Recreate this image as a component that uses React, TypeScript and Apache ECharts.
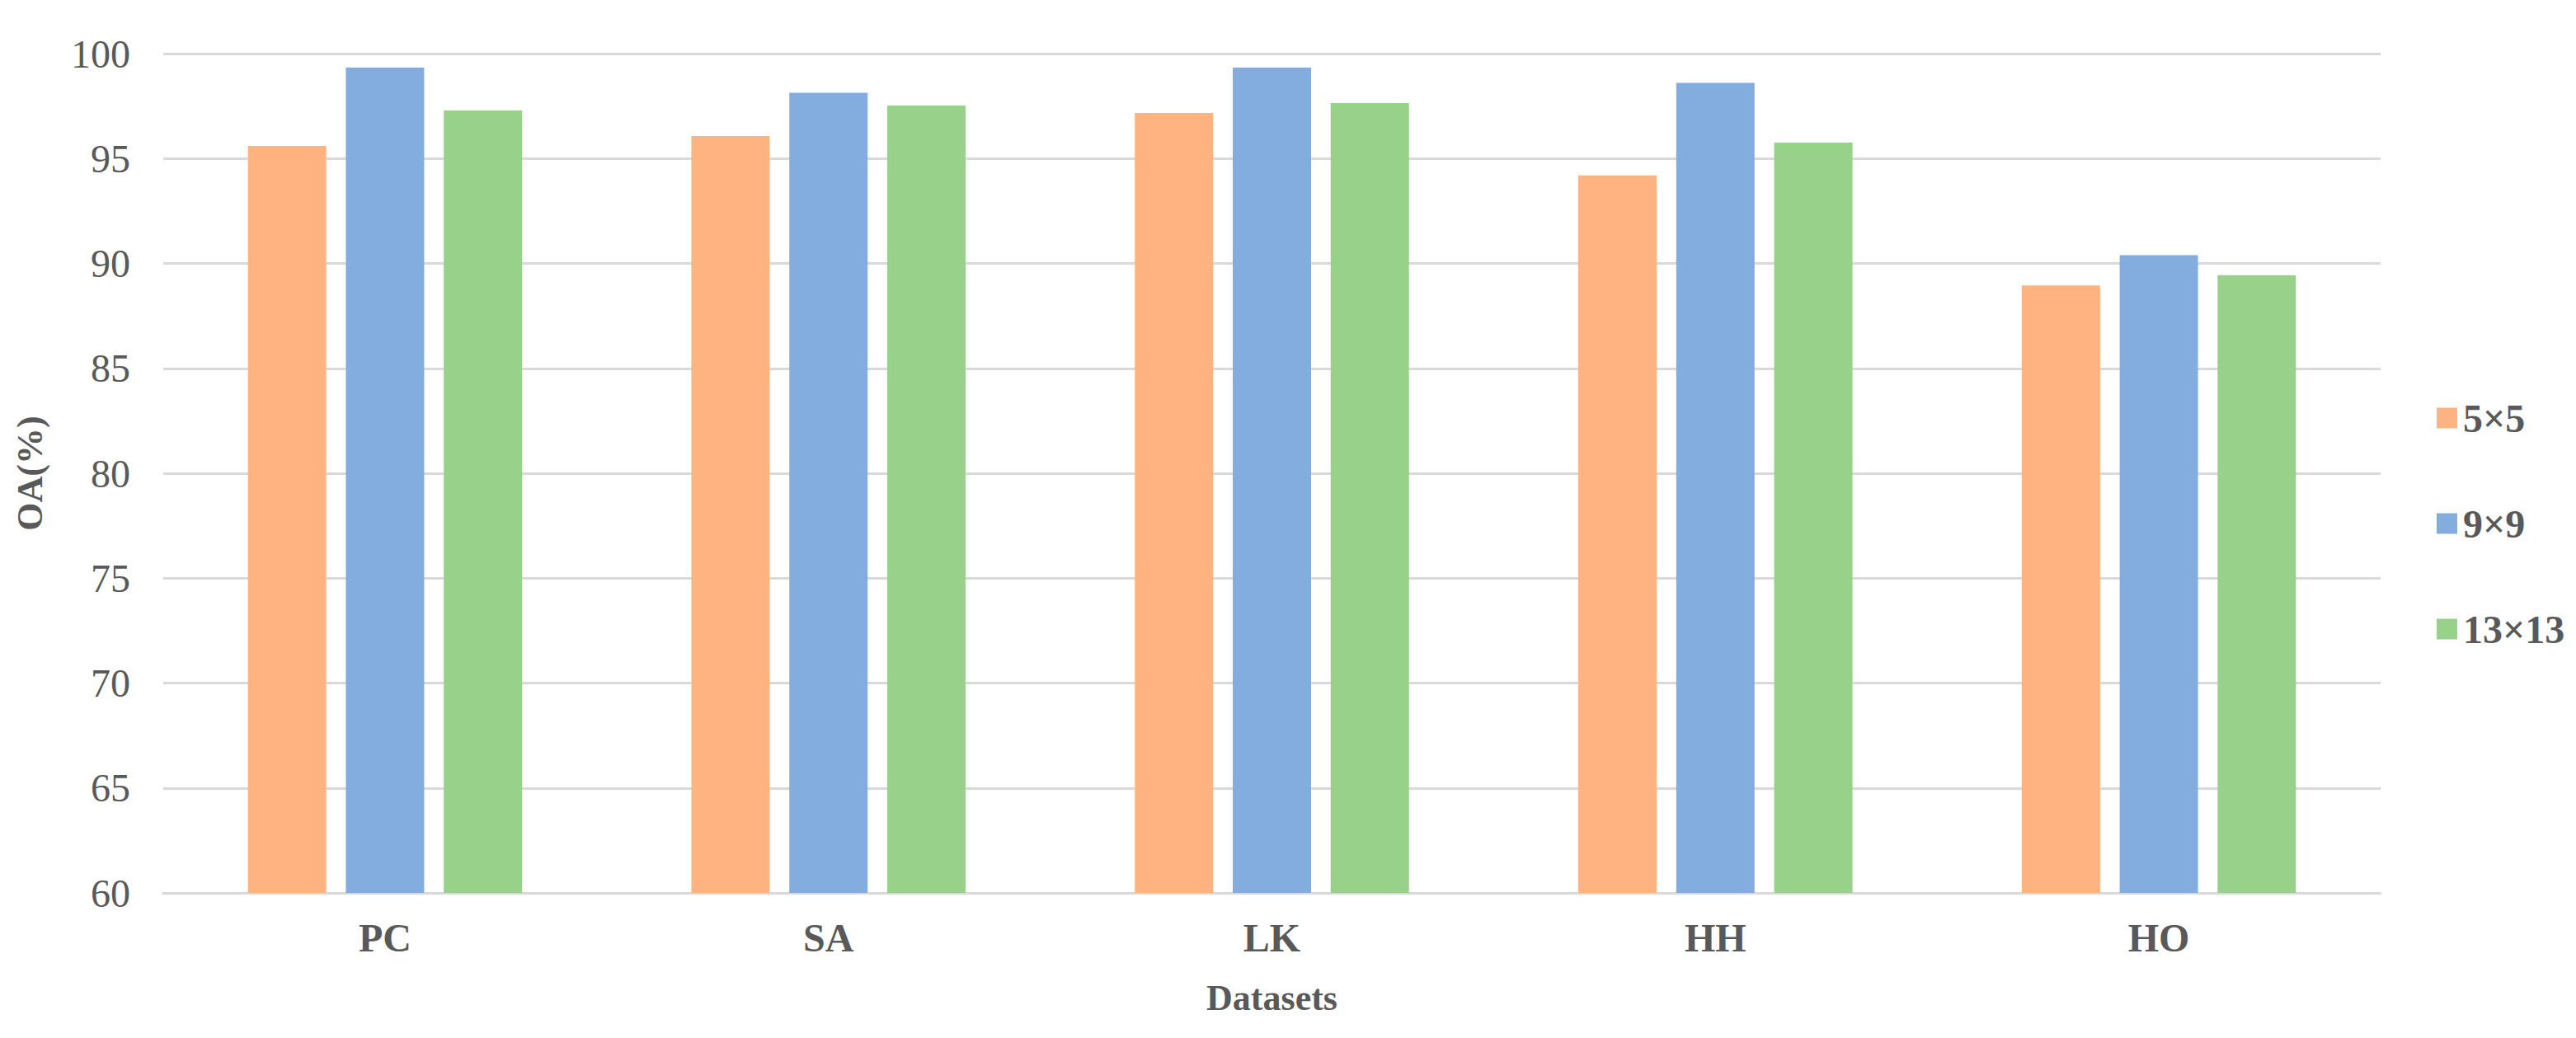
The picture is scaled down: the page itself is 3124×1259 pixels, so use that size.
import React, { useEffect, useRef } from "react";
import * as echarts from "echarts";

const categories = ["PC", "SA", "LK", "HH", "HO"];
const seriesNames = ["5×5", "9×9", "13×13"];
const values5 = [95.6, 96.07, 97.17, 94.19, 88.95];
const values9 = [99.33, 98.13, 99.33, 98.61, 90.39];
const values13 = [97.29, 97.52, 97.64, 95.76, 89.44];
const colors = ["#FFB380", "#84ADDF", "#98D28A"];

const FONT = "'Liberation Serif', 'Times New Roman', serif";
const TEXT = "#595959";

export default function App() {
  const ref = useRef<HTMLDivElement>(null);
  useEffect(() => {
    document.body.style.margin = "0";
    if (!ref.current) return;
    const chart = echarts.init(ref.current, undefined, { renderer: "svg" });
    const data = [values5, values9, values13];
    chart.setOption({
      animation: false,
      backgroundColor: "#ffffff",
      grid: { left: 198, right: 237, top: 65, bottom: 176, containLabel: false },
      legend: {
        orient: "vertical",
        left: 2950,
        top: 478,
        itemWidth: 25,
        itemHeight: 25,
        itemGap: 80,
        icon: "rect",
        data: seriesNames,
        textStyle: {
          fontFamily: FONT,
          fontSize: 48,
          fontWeight: "bold",
          color: TEXT,
          lineHeight: 48,
          padding: [0, 0, 0, 2],
        },
      },
      xAxis: {
        type: "category",
        data: categories,
        name: "Datasets",
        nameLocation: "middle",
        nameGap: 105,
        nameTextStyle: { fontFamily: FONT, fontSize: 44, fontWeight: "bold", color: TEXT },
        axisLine: { show: true, lineStyle: { color: "#D9D9D9", width: 3 } },
        axisTick: { show: false },
        axisLabel: {
          margin: 30,
          fontFamily: FONT,
          fontSize: 48,
          fontWeight: "bold",
          color: TEXT,
        },
      },
      yAxis: {
        type: "value",
        min: 60,
        max: 100,
        interval: 5,
        name: "OA(%)",
        nameLocation: "middle",
        nameGap: 140,
        nameTextStyle: { fontFamily: FONT, fontSize: 44, fontWeight: "bold", color: TEXT },
        axisLine: { show: false },
        axisTick: { show: false },
        axisLabel: { margin: 40, fontFamily: FONT, fontSize: 48, color: TEXT },
        splitLine: { lineStyle: { color: "#D9D9D9", width: 3 } },
      },
      series: seriesNames.map((name, i) => ({
        name,
        type: "bar",
        data: data[i],
        barWidth: 95,
        barGap: "25%",
        itemStyle: { color: colors[i] },
      })),
    });
    return () => chart.dispose();
  }, []);
  return <div ref={ref} style={{ width: 3124, height: 1259 }} />;
}
